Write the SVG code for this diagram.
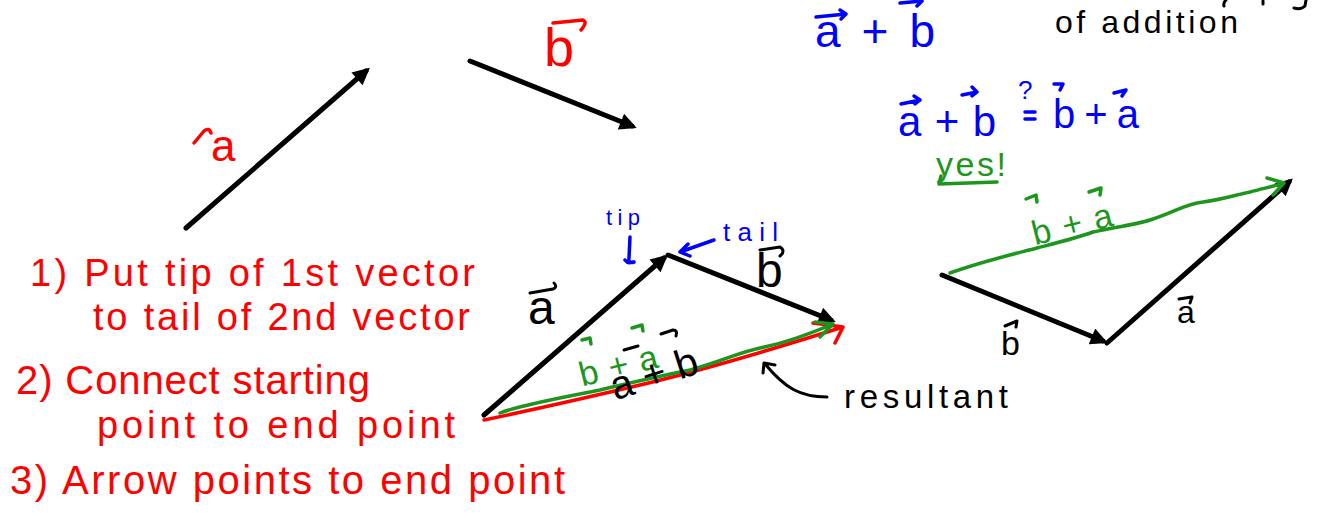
<svg xmlns="http://www.w3.org/2000/svg" width="1329" height="513" viewBox="0 0 1329 513">
<defs>
<style>
text{font-family:"Liberation Sans","DejaVu Sans",sans-serif;}
.r{fill:#ff0000;} .bl{fill:#0000ff;} .g{fill:#1e961e;} .k{fill:#000;}
.vec{stroke:#000;stroke-width:5;fill:none;stroke-linecap:round;marker-end:url(#ah);}
.sr{stroke:#ff0000;stroke-width:3.5;fill:none;stroke-linecap:round;stroke-linejoin:round;}
.sg{stroke:#1e961e;stroke-width:3.5;fill:none;stroke-linecap:round;stroke-linejoin:round;}
.sb{stroke:#0000ff;stroke-width:3.5;fill:none;stroke-linecap:round;stroke-linejoin:round;}
.sk{stroke:#000;stroke-width:3;fill:none;stroke-linecap:round;stroke-linejoin:round;}
</style>
<marker id="ah" viewBox="0 0 10 10" refX="7" refY="5" markerWidth="3.8" markerHeight="3.4" orient="auto" markerUnits="strokeWidth">
<path d="M0,0 L10,5 L0,10 z" fill="#000"/>
</marker>
</defs>
<rect width="1329" height="513" fill="#fff"/>

<g id="connectors">
<!-- separate vectors top-left -->
<line class="vec" x1="186" y1="228" x2="366" y2="71"/>
<line class="vec" x1="470" y1="61" x2="632" y2="126"/>
<!-- middle triangle -->
<line class="vec" x1="484" y1="415" x2="664" y2="258"/>
<line class="vec" x1="668" y1="255" x2="831" y2="320"/>
<path class="sr" d="M484,420 Q560,404 640,385 T843,327 M813,323 L843,327 L835,343"/>
<path class="sg" d="M500,413 C520,405 560,398 600,390 C630,383 650,378 690,370 C720,362 740,352 760,348 C780,344 800,338 833,324 M815,322 L833,324 L820,337"/>
<!-- right triangle -->
<line class="vec" x1="942" y1="275" x2="1103" y2="341"/>
<line class="vec" x1="1107" y1="343" x2="1289" y2="182"/>
<path class="sg" d="M950,273 C980,262 1010,255 1037,248 C1060,242 1080,237 1093,232 C1120,226 1140,224 1153,219 C1175,212 1185,204 1203,202 C1225,199 1235,195 1250,192 C1265,188 1275,186 1284,183 M1267,178 L1284,183 L1273,195"/>
<!-- tip / tail pointers -->
<path class="sb" d="M630,237 L629,258 Q628,264 634,262 M625,260 Q628,264 632,262"/>
<path class="sb" d="M714,240 L680,252 M688,244 L680,252 L690,256"/>
<!-- resultant pointer -->
<path class="sk" d="M827,397 C800,397 785,388 765,364 M763,373 L764,363 L775,365"/>
</g>

<g id="top-labels">
<text class="r" x="211" y="161" font-size="44">a</text>
<path class="sr" d="M194,143 L204,131 Q209,127 211,133"/>
<text class="r" x="544" y="66" font-size="54">b</text>
<path class="sr" d="M553,23 L583,20 Q588,22 581,30"/>
</g>

<g id="commutative-note">
<text class="bl" x="815" y="47" font-size="46" textLength="120" lengthAdjust="spacing">a + b</text>
<path class="sb" d="M816,17 L846,14 M840,10 L846,14 L841,19"/>
<path class="sb" d="M900,3 L922,1 M916,-3 L922,1 L917,6"/>
<text class="k" x="1055" y="33" font-size="32" textLength="183" lengthAdjust="spacing">of addition</text>
<path class="sk" d="M1226,0 Q1223,3 1224,6 M1263,1 L1263,4 M1306,0 L1305,6 Q1301,10 1294,8"/>
<text class="bl" x="898" y="136" font-size="42" textLength="98" lengthAdjust="spacing">a + b</text>
<path class="sb" d="M901,104 L920,100 M914,96 L920,100 L915,104"/>
<path class="sb" d="M962,95 L977,92 M972,87 L977,92 L972,96"/>
<text class="bl" x="1018" y="99" font-size="26">?</text>
<path class="sb" d="M1025,112 L1035,112 M1025,119 L1035,119"/>
<text class="bl" x="1053" y="128" font-size="40" textLength="86" lengthAdjust="spacing">b + a</text>
<path class="sb" d="M1054,84 L1063,84 L1060,90"/>
<path class="sb" d="M1114,93 L1126,90 L1122,96"/>
<text class="g" x="936" y="176" font-size="34" textLength="70" lengthAdjust="spacing">yes!</text>
<path class="sg" d="M941,176 L939,184 L997,182"/>
</g>

<g id="middle-labels">
<text class="k" x="528" y="324" font-size="48">a</text>
<path class="sk" d="M530,293 L553,289 Q558,287 554,283"/>
<text class="k" x="756" y="287" font-size="48">b</text>
<path class="sk" d="M760,250 L780,247 Q786,251 780,256"/>
<text class="bl" x="606" y="225" font-size="22" textLength="34" lengthAdjust="spacing">tip</text>
<text class="bl" x="723" y="241" font-size="26" textLength="55" lengthAdjust="spacing">tail</text>
<g transform="rotate(-14 615 365)">
<text class="g" x="578" y="378" font-size="34" textLength="80" lengthAdjust="spacing">b + a</text>
</g>
<path class="sg" d="M582,340 L590,338 L591,344 M632,328 L642,325 L643,331"/>
<g transform="rotate(-18 650 365)">
<text class="k" x="606" y="388" font-size="40" textLength="90" lengthAdjust="spacing">a + b</text>
</g>
<path class="sk" d="M624,350 L638,346 M661,334 L673,330 Q678,330 676,336"/>
<text class="k" x="844" y="408" font-size="33" textLength="164" lengthAdjust="spacing">resultant</text>
</g>

<g id="right-labels">
<g transform="rotate(-14 1070 220)">
<text class="g" x="1030" y="236" font-size="34" textLength="82" lengthAdjust="spacing">b + a</text>
</g>
<path class="sg" d="M1026,199 L1036,195 L1037,202 M1089,192 L1101,188 L1100,195"/>
<text class="k" x="1177" y="323" font-size="32">a</text>
<path class="sk" d="M1179,299 L1192,297 L1190,303"/>
<text class="k" x="1001" y="355" font-size="34">b</text>
<path class="sk" d="M1005,326 L1017,321 L1016,327"/>
</g>

<g id="steps">
<text class="r" x="30" y="286" font-size="38" textLength="445" lengthAdjust="spacing">1) Put tip of 1st vector</text>
<text class="r" x="93" y="330" font-size="38" textLength="377" lengthAdjust="spacing">to tail of 2nd vector</text>
<text class="r" x="16" y="394" font-size="40" textLength="354" lengthAdjust="spacing">2) Connect starting</text>
<text class="r" x="97" y="438" font-size="38" textLength="358" lengthAdjust="spacing">point to end point</text>
<text class="r" x="10" y="494" font-size="40" textLength="555" lengthAdjust="spacing">3) Arrow points to end point</text>
</g>
</svg>
